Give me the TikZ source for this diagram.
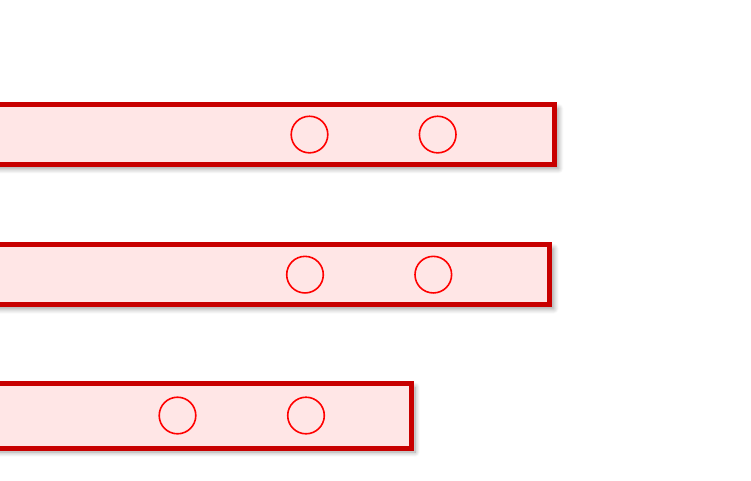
\documentclass[tikz,border=0pt]{standalone}
\usepackage{xcolor}
\usepackage{tikz}
\usetikzlibrary{shadows.blur}

\definecolor{barred}{HTML}{C80000}
\definecolor{barfill}{HTML}{FFE6E6}
\tikzset{
  bar/.style={draw=barred, line width=5pt, fill=barfill,
    blur shadow={shadow xshift=4pt, shadow yshift=-4pt, shadow blur radius=5pt,
      shadow blur steps=10, shadow opacity=40}},
  hole/.style={draw=red, line width=1.6pt}
}

\begin{document}
\begin{tikzpicture}[x=1pt,y=-1pt]
\useasboundingbox (0,0) rectangle (751,480);
\clip (0,0) rectangle (751,480);
% three bars, each with two holes
\foreach \t/\b/\r/\ha/\hb in {104.5/164.6/554.5/309.5/437.7, 244.5/304.8/549.8/305/433.3, 383/448/411/177.5/306} {
  \draw[bar] (-20,\t) rectangle (\r,\b);
  \draw[hole] (\ha,{(\t+\b)/2}) circle (18.3);
  \draw[hole] (\hb,{(\t+\b)/2}) circle (18.3);
}
\end{tikzpicture}
\end{document}
